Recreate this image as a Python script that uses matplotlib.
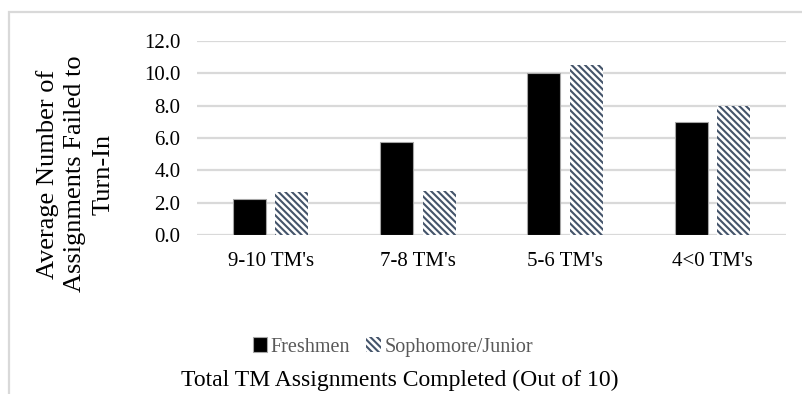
import numpy as np
import matplotlib
matplotlib.use("Agg")
from matplotlib import pyplot as plt
from matplotlib.patches import Rectangle

categories = ["9-10 TM's", "7-8 TM's", "5-6 TM's", "4<0 TM's"]
freshmen = [2.25, 5.75, 10.0, 7.0]
soph_junior = [2.65, 2.75, 10.5, 8.0]
y_ticks = [0, 2, 4, 6, 8, 10, 12]

plt.rcParams['font.family'] = ['Liberation Serif', 'DejaVu Serif']
plt.rcParams['hatch.linewidth'] = 1.5
plt.rcParams['hatch.color'] = '#44546a'

fig = plt.figure(figsize=(8.03, 3.94), dpi=100)
ax = fig.add_axes([0.2453, 0.4036, 0.7335, 0.4924])

# chart border (cut off at right and bottom like the source)
fig.patches.append(Rectangle((8.5 / 803, -0.2), 1.2, 1.2 - 11.5 / 394,
                             transform=fig.transFigure, fill=False,
                             edgecolor='#d9d9d9', linewidth=1.6, zorder=0))

x = np.arange(len(categories))
w = 0.225
off = w / 2 + 0.032
ax.bar(x - off, freshmen, w, color='black', edgecolor='#a6a6a6', linewidth=0.8,
       label='Freshmen', zorder=3)
ax.bar(x + off, soph_junior, w, color='white', edgecolor='#44546a', linewidth=0,
       hatch='\\\\\\\\\\', label='Sophomore/Junior', zorder=3)

ax.set_xlim(-0.5, len(categories) - 0.5)
ax.set_ylim(0, 12)
ax.set_yticks(y_ticks)
ax.set_yticklabels([f"{v:.1f}" for v in y_ticks])
ax.set_xticks(x)
ax.set_xticklabels(categories)
ax.tick_params(axis='both', length=0, labelsize=15, colors='black')
ax.tick_params(axis='y', pad=12)
ax.tick_params(axis='x', pad=12)

ax.grid(axis='y', color='#d9d9d9', linewidth=1.6, zorder=0)
for s in ax.spines.values():
    s.set_visible(False)

fig.text(75 / 803, 1 - 174 / 394,
         "Average Number of\nAssignments Failed to\nTurn-In",
         rotation=90, ha='center', va='center', fontsize=19, linespacing=1.35)

fig.legend(loc='center', bbox_to_anchor=(393 / 803, 1 - 347 / 394), ncol=2,
           frameon=False, fontsize=14.5, handlelength=0.7, handleheight=0.7,
           handletextpad=0.2, columnspacing=0.8, labelcolor='#595959')

fig.text(400 / 803, 1 - 380 / 394, "Total TM Assignments Completed (Out of 10)",
         ha='center', va='center', fontsize=17)

fig.savefig("out.png", dpi=100)
plt.close(fig)
